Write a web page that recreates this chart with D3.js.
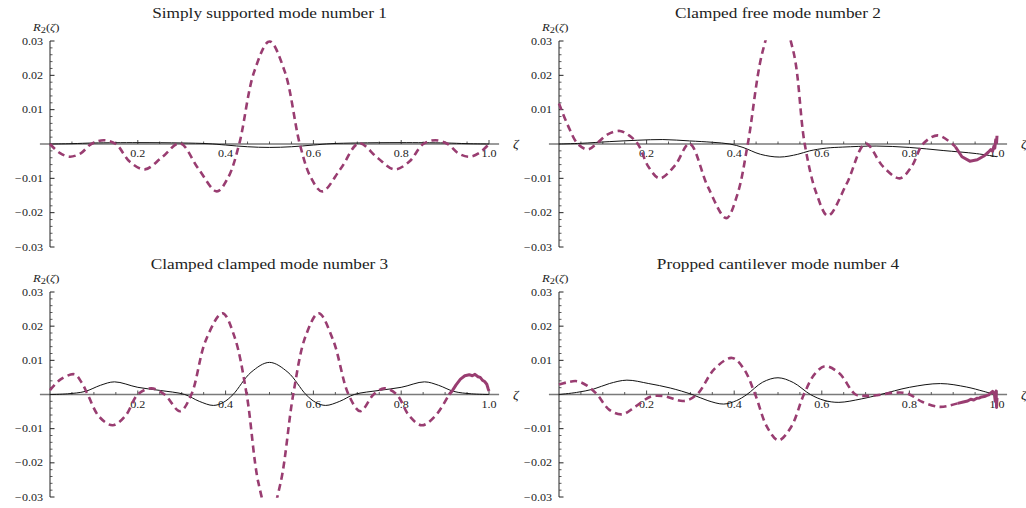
<!DOCTYPE html>
<html>
<head>
<meta charset="utf-8">
<script src="https://cdn.jsdelivr.net/npm/d3@7"></script>
<style>
    body { margin: 0; background: #fff; }
    text { font-family: "Liberation Serif", "Times New Roman", serif; fill: #222; }
</style>
</head>
<body>
<div id="chart"></div>
<script>

// ---- data: [zeta, R2] ----

// simply supported, mode 1
let ssDashed = [[0,0],[0.022,-0.0026],[0.045,-0.0037],[0.07,-0.0027],[0.094,0],[0.122,0.0011],[0.15,0],[0.182,-0.0052],[0.216,-0.0074],[0.255,-0.0039],[0.296,0.0002],[0.338,-0.0072],[0.38,-0.0138],[0.406,-0.0097],[0.431,0],[0.465,0.021],[0.5,0.0299],[0.535,0.021],[0.569,0],[0.594,-0.0097],[0.62,-0.0138],[0.662,-0.0072],[0.704,0.0002],[0.745,-0.0039],[0.784,-0.0074],[0.818,-0.0052],[0.85,0],[0.878,0.0011],[0.906,0],[0.93,-0.0027],[0.955,-0.0037],[0.978,-0.0026],[1,0]];
let ssSolid = [[0,0],[0.05,0.0001],[0.1,0.0003],[0.2,0.0004],[0.3,0.0003],[0.36,0.0001],[0.4,-0.0003],[0.45,-0.0008],[0.5,-0.001],[0.55,-0.0008],[0.6,-0.0003],[0.64,0.0001],[0.7,0.0003],[0.8,0.0004],[0.9,0.0003],[0.95,0.0001],[1,0]];

// clamped free, mode 2
let cfDashed = [[0,0.0118],[0.02,0.0055],[0.043,0],[0.066,-0.0016],[0.085,0],[0.11,0.0027],[0.139,0.0038],[0.16,0.0025],[0.18,0],[0.205,-0.0068],[0.23,-0.01],[0.265,-0.0062],[0.298,0.0001],[0.34,-0.0125],[0.382,-0.0216],[0.407,-0.0148],[0.431,0],[0.465,0.027],[0.5,0.039],[0.535,0.027],[0.561,0],[0.588,-0.0145],[0.614,-0.0209],[0.657,-0.0115],[0.7,0.0001],[0.74,-0.0066],[0.778,-0.01],[0.805,-0.0066],[0.831,0],[0.865,0.0025],[0.905,-0.0008]];
let cfTail = [[0.905,-0.0008],[0.92,-0.0037],[0.938,-0.005],[0.955,-0.0046],[0.97,-0.0035],[0.98,-0.0024],[0.986,-0.0016],[0.99,-0.0021],[0.993,-0.0006],[0.995,-0.0012],[0.997,0.0012],[0.999,0.0004],[1,0.0024]];
let cfSolid = [[0,0],[0.05,0.0002],[0.116,0.0007],[0.18,0.0011],[0.237,0.0013],[0.298,0.0009],[0.35,0.0005],[0.39,0],[0.42,-0.001],[0.46,-0.003],[0.504,-0.0038],[0.545,-0.003],[0.572,-0.002],[0.61,-0.0012],[0.648,-0.0009],[0.724,-0.0006],[0.8,-0.001],[0.877,-0.0019],[0.953,-0.0028],[1,-0.0037]];

// clamped clamped, mode 3
let ccDashed = [[0,0.0013],[0.025,0.0045],[0.056,0.0059],[0.072,0.0035],[0.086,0],[0.112,-0.0065],[0.143,-0.009],[0.172,-0.0062],[0.2,0],[0.231,0.0018],[0.261,0],[0.296,-0.0049],[0.322,0],[0.355,0.0159],[0.393,0.0238],[0.42,0.017],[0.448,0],[0.475,-0.026],[0.5,-0.036],[0.525,-0.026],[0.554,0],[0.582,0.017],[0.612,0.0238],[0.645,0.0159],[0.68,0],[0.707,-0.0049],[0.737,0],[0.762,0.0018],[0.79,0],[0.818,-0.0062],[0.847,-0.009],[0.878,-0.0062],[0.909,0]];
let ccTail = [[0.909,0],[0.917,0.0012],[0.925,0.0028],[0.935,0.0045],[0.945,0.0055],[0.955,0.0058],[0.962,0.0055],[0.968,0.0059],[0.975,0.0052],[0.98,0.005],[0.985,0.0042],[0.99,0.0038],[0.995,0.003],[0.998,0.0017],[1,0.001]];
let ccSolid = [[0,0],[0.04,0.0002],[0.08,0.0009],[0.115,0.0027],[0.147,0.0037],[0.2,0.0021],[0.25,0.0012],[0.307,0],[0.34,-0.002],[0.372,-0.0032],[0.395,-0.0023],[0.417,0],[0.458,0.0065],[0.5,0.0094],[0.542,0.0065],[0.583,0],[0.605,-0.0023],[0.628,-0.0032],[0.66,-0.002],[0.693,0],[0.75,0.0012],[0.8,0.0021],[0.853,0.0037],[0.885,0.0027],[0.92,0.0009],[0.96,0.0002],[1,0]];

// propped cantilever, mode 4
let pcDashed = [[0,0.0029],[0.02,0.0036],[0.041,0.0039],[0.065,0.0025],[0.087,0],[0.115,-0.0045],[0.144,-0.0058],[0.175,-0.0035],[0.21,-0.0006],[0.24,-0.0005],[0.285,-0.0019],[0.315,0],[0.355,0.0075],[0.395,0.0107],[0.422,0.0075],[0.448,0],[0.475,-0.0095],[0.501,-0.0134],[0.53,-0.0095],[0.559,0],[0.585,0.0062],[0.608,0.0083],[0.64,0.0062],[0.677,0],[0.7,-0.0004],[0.726,-0.0002],[0.764,0.0005],[0.795,0.0003],[0.83,-0.0022],[0.867,-0.0036],[0.89,-0.0033],[0.91,-0.0026]];
let pcTail = [[0.91,-0.0026],[0.923,-0.0022],[0.933,-0.0019],[0.94,-0.0014],[0.947,-0.0016],[0.954,-0.0011],[0.96,-0.0010],[0.965,-0.0007],[0.971,-0.0006],[0.976,-0.0003],[0.981,-0.0001],[0.985,0.0004],[0.99,0.0009],[0.994,0.0002],[0.996,-0.002],[0.998,0.001],[0.999,-0.0038],[1,-0.001]];
let pcSolid = [[0,0],[0.04,0.0006],[0.079,0.0016],[0.115,0.0032],[0.155,0.0042],[0.205,0.0032],[0.254,0.0019],[0.304,0],[0.34,-0.0018],[0.376,-0.0028],[0.405,-0.0018],[0.429,0],[0.465,0.0036],[0.5,0.0049],[0.535,0.0035],[0.574,0],[0.605,-0.0017],[0.639,-0.0023],[0.69,-0.0013],[0.734,0],[0.8,0.0021],[0.871,0.0032],[0.93,0.0022],[0.97,0.0009],[1,-0.0002]];

let titles = ["Simply supported mode number 1", "Clamped free mode number 2",
              "Clamped clamped mode number 3", "Propped cantilever mode number 4"];

let yMajor = [-0.03, -0.02, -0.01, 0.01, 0.02, 0.03];
let xMajor = [0.2, 0.4, 0.6, 0.8, 1.0];

// ---- layout ----

let width = 1026, height = 508;
let purple = "#993d71";
let stretch = 1.15;   // the source picture is a bit wider than tall

let svg = d3.select("#chart").append("svg")
    .attr("width", width)
    .attr("height", height);

let panels = [
    {title: titles[0], x0: 50,  x1: 489, top: 41,  bottom: 247, dashed: ssDashed, tail: null,   solid: ssSolid},
    {title: titles[1], x0: 559, x1: 997, top: 41,  bottom: 247, dashed: cfDashed, tail: cfTail, solid: cfSolid},
    {title: titles[2], x0: 50,  x1: 489, top: 292, bottom: 497, dashed: ccDashed, tail: ccTail, solid: ccSolid},
    {title: titles[3], x0: 559, x1: 997, top: 292, bottom: 497, dashed: pcDashed, tail: pcTail, solid: pcSolid}
];

let fmt = v => (v < 0 ? "\u2212" : "") + Math.abs(v).toFixed(2);

// text placed at (x, y) and widened a little like the original
function label(sel, x, y, size, anchor) {
    return sel
        .attr("transform", typeof x === "function"
            ? (d => `translate(${x(d)},${y(d)}) scale(${stretch},1)`)
            : `translate(${x},${y}) scale(${stretch},1)`)
        .attr("text-anchor", anchor)
        .style("font-size", size + "px");
}

panels.forEach((p, i) => {
    let x = d3.scaleLinear().domain([0, 1]).range([p.x0, p.x1]);
    let y = d3.scaleLinear().domain([-0.03, 0.03]).range([p.bottom, p.top]);
    let g = svg.append("g");

    // title
    label(g.append("text"), (p.x0 + p.x1) / 2, p.top - 23, 15, "middle")
        .text(p.title);

    // y axis label R2(zeta)
    let yl = label(g.append("text"), p.x0 - 17, p.top - 10, 11, "start");
    yl.append("tspan").style("font-style", "italic").text("R");
    yl.append("tspan").attr("dy", 2).style("font-size", "9px").text("2");
    yl.append("tspan").attr("dy", -2).text("(");
    yl.append("tspan").style("font-style", "italic").text("\u03b6");
    yl.append("tspan").text(")");

    // x axis line
    g.append("line")
        .attr("x1", x(-0.023)).attr("x2", x(1.023))
        .attr("y1", y(0)).attr("y2", y(0))
        .attr("stroke", "#7a7a7a")
        .attr("stroke-width", 1.3);

    // x ticks (pointing up)
    let xMinor = d3.range(1, 21).map(k => k * 0.05).filter(v => Math.abs(v * 5 - Math.round(v * 5)) > 1e-6);
    g.selectAll(".xminor").data(xMinor).enter().append("line")
        .attr("x1", d => x(d)).attr("x2", d => x(d))
        .attr("y1", y(0)).attr("y2", y(0) - 2.5)
        .attr("stroke", "#333").attr("stroke-width", 0.8);
    g.selectAll(".xmajor").data(xMajor).enter().append("line")
        .attr("x1", d => x(d)).attr("x2", d => x(d))
        .attr("y1", y(0)).attr("y2", y(0) - 4)
        .attr("stroke", "#333").attr("stroke-width", 0.9);
    label(g.selectAll(".xlab").data(xMajor).enter().append("text"),
          d => x(d), d => y(0) + 13, 10.5, "middle")
        .text(d => d.toFixed(1));

    // zeta label
    label(g.append("text"), p.x1 + 24, y(0) + 4, 12, "start")
        .style("font-style", "italic")
        .text("\u03b6");

    // y axis
    g.append("line")
        .attr("x1", p.x0).attr("x2", p.x0)
        .attr("y1", y(0.03)).attr("y2", y(-0.03))
        .attr("stroke", "#222").attr("stroke-width", 1);
    let yMinor = d3.range(-15, 16).filter(k => k % 5 !== 0).map(k => k * 0.002);
    g.selectAll(".yminor").data(yMinor).enter().append("line")
        .attr("x1", p.x0).attr("x2", p.x0 + 2.5)
        .attr("y1", d => y(d)).attr("y2", d => y(d))
        .attr("stroke", "#333").attr("stroke-width", 0.8);
    g.selectAll(".ymajor").data(yMajor).enter().append("line")
        .attr("x1", p.x0).attr("x2", p.x0 + 4.5)
        .attr("y1", d => y(d)).attr("y2", d => y(d))
        .attr("stroke", "#222").attr("stroke-width", 1);
    label(g.selectAll(".ylab").data(yMajor).enter().append("text"),
          () => p.x0 - 7, d => y(d) + 3.5, 10.5, "end")
        .text(d => fmt(d));

    // clip to the plot range
    svg.append("clipPath").attr("id", "clip" + i)
        .append("rect")
        .attr("x", p.x0 - 10).attr("y", y(0.0302))
        .attr("width", p.x1 - p.x0 + 20)
        .attr("height", y(-0.0302) - y(0.0302));

    let curves = g.append("g").attr("clip-path", `url(#clip${i})`);

    let smooth = d3.line()
        .x(d => x(d[0])).y(d => y(d[1]))
        .curve(d3.curveCatmullRom.alpha(0.5));
    let rough = d3.line()
        .x(d => x(d[0])).y(d => y(d[1]));

    curves.append("path")
        .attr("d", smooth(p.solid))
        .attr("fill", "none")
        .attr("stroke", "#111")
        .attr("stroke-width", 1);

    curves.append("path")
        .attr("d", smooth(p.dashed))
        .attr("fill", "none")
        .attr("stroke", purple)
        .attr("stroke-width", 2.6)
        .attr("stroke-dasharray", "7,4.5");

    if (p.tail) {
        curves.append("path")
            .attr("d", rough(p.tail))
            .attr("fill", "none")
            .attr("stroke", purple)
            .attr("stroke-width", 3)
            .attr("stroke-linejoin", "round");
    }
});

</script>
</body>
</html>
